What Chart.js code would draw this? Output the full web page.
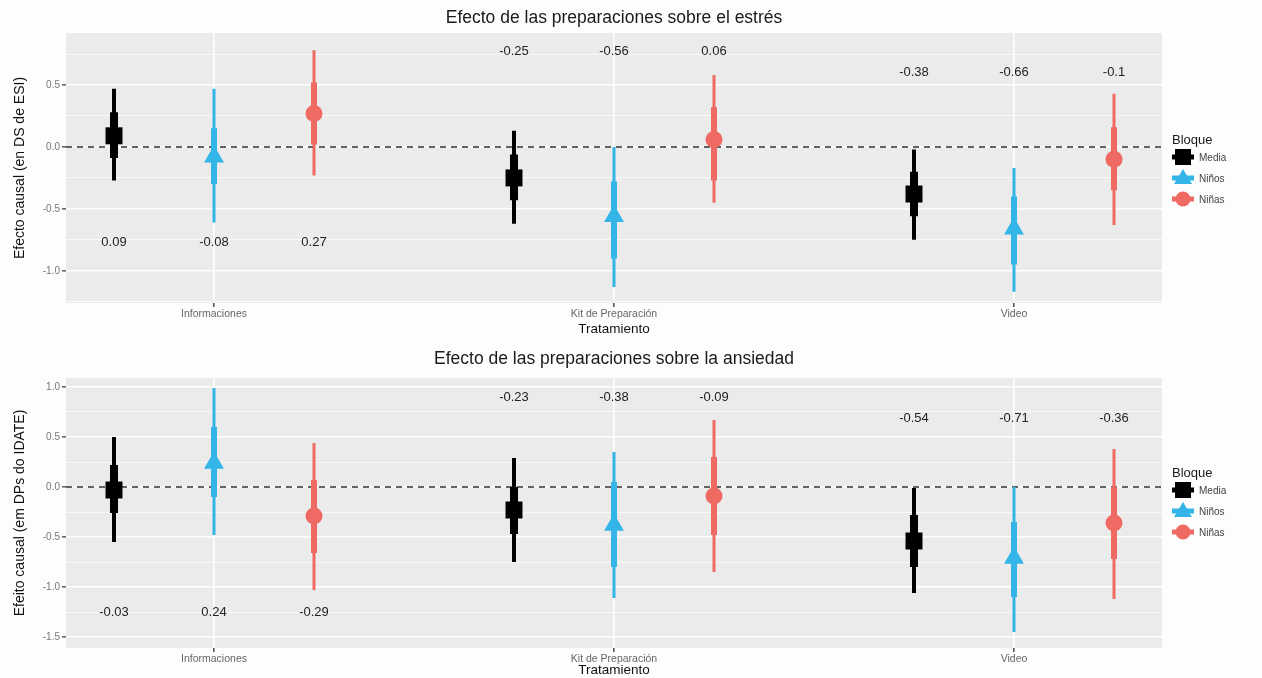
<!DOCTYPE html>
<html>
<head>
<meta charset="utf-8">
<script src="https://cdn.jsdelivr.net/npm/chart.js@4"></script>
<style>
  html, body { margin: 0; padding: 0; background: #fdfdfd; }
  .panel { position: absolute; left: 0; width: 1262px; }
  #top { top: 0; height: 340px; }
  #bottom { top: 340px; height: 338px; }
</style>
</head>
<body>
<div class="panel" id="top"><canvas id="estresChart"></canvas></div>
<div class="panel" id="bottom"><canvas id="ansiedadChart"></canvas></div>
<script>
const categories = ['Informaciones', 'Kit de Preparación', 'Video'];
const groups = ['Media', 'Niños', 'Niñas'];

// estrés (top panel)
const estresMedia = [0.09, -0.25, -0.38];
const estresNinos = [-0.08, -0.56, -0.66];
const estresNinas = [0.27, 0.06, -0.1];
const estresMediaOuter = [[-0.27, 0.47], [-0.62, 0.13], [-0.75, -0.02]];
const estresMediaInner = [[-0.09, 0.28], [-0.43, -0.06], [-0.56, -0.2]];
const estresNinosOuter = [[-0.61, 0.47], [-1.13, 0.0], [-1.17, -0.17]];
const estresNinosInner = [[-0.3, 0.15], [-0.9, -0.28], [-0.95, -0.4]];
const estresNinasOuter = [[-0.23, 0.78], [-0.45, 0.58], [-0.63, 0.43]];
const estresNinasInner = [[0.02, 0.52], [-0.27, 0.32], [-0.35, 0.16]];
const estresLabelY = [-0.77, 0.77, 0.6];
const estresMajorTicks = [-1.0, -0.5, 0.0, 0.5];
const estresMinorTicks = [-1.25, -0.75, -0.25, 0.25, 0.75];

// ansiedad (bottom panel)
const ansiedadMedia = [-0.03, -0.23, -0.54];
const ansiedadNinos = [0.24, -0.38, -0.71];
const ansiedadNinas = [-0.29, -0.09, -0.36];
const ansiedadMediaOuter = [[-0.55, 0.5], [-0.75, 0.29], [-1.06, -0.01]];
const ansiedadMediaInner = [[-0.26, 0.22], [-0.47, 0.0], [-0.8, -0.28]];
const ansiedadNinosOuter = [[-0.48, 0.99], [-1.11, 0.35], [-1.45, 0.0]];
const ansiedadNinosInner = [[-0.1, 0.6], [-0.8, 0.05], [-1.1, -0.35]];
const ansiedadNinasOuter = [[-1.03, 0.44], [-0.85, 0.67], [-1.12, 0.38]];
const ansiedadNinasInner = [[-0.66, 0.07], [-0.48, 0.3], [-0.72, 0.0]];
const ansiedadLabelY = [-1.25, 0.9, 0.69];
const ansiedadMajorTicks = [-1.5, -1.0, -0.5, 0.0, 0.5, 1.0];
const ansiedadMinorTicks = [-1.25, -0.75, -0.25, 0.25, 0.75];

const groupColors = ['#000000', '#33B5E8', '#EE6A62'];
const groupShapes = ['rect', 'triangle', 'circle'];
const groupRadius = [12, 11.5, 8.5];
const outerWidth = [4, 3, 3];
const innerWidth = [8, 6, 6];
const groupOffsets = [-0.25, 0, 0.25];
const FONT = '"Liberation Sans", Arial, sans-serif';

function isMajor(v) {
    return Math.abs(v * 2 - Math.round(v * 2)) < 1e-6;
}

function rangeData(pairs, offset) {
    const pts = [];
    pairs.forEach((p, i) => {
        pts.push({ x: i + 1 + offset, y: p[0] });
        pts.push({ x: i + 1 + offset, y: p[1] });
        pts.push({ x: i + 1 + offset, y: null });
    });
    return pts;
}

function makeChart(canvasId, cfg) {
    const datasets = [];
    groups.forEach((g, k) => {
        datasets.push({
            label: g,
            data: cfg.estimates[k].map((v, i) => ({ x: i + 1 + groupOffsets[k], y: v })),
            showLine: false,
            pointStyle: groupShapes[k],
            pointRadius: groupRadius[k],
            pointBackgroundColor: groupColors[k],
            pointBorderWidth: 0,
            order: 0
        });
        datasets.push({
            label: g + ' inner',
            data: rangeData(cfg.inner[k], groupOffsets[k]),
            borderColor: groupColors[k],
            borderWidth: innerWidth[k],
            borderCapStyle: 'butt',
            pointRadius: 0,
            order: 1
        });
        datasets.push({
            label: g + ' outer',
            data: rangeData(cfg.outer[k], groupOffsets[k]),
            borderColor: groupColors[k],
            borderWidth: outerWidth[k],
            borderCapStyle: 'butt',
            pointRadius: 0,
            order: 2
        });
    });
    datasets.push({
        label: 'cero',
        data: [{ x: 0.63, y: 0 }, { x: 3.37, y: 0 }],
        borderColor: '#333333',
        borderWidth: 1.6,
        borderDash: [6, 5],
        pointRadius: 0,
        order: 3
    });

    const panelPlugin = {
        id: 'panel',
        beforeDraw(chart) {
            const a = chart.chartArea;
            const c = chart.ctx;
            c.save();
            c.fillStyle = '#EBEBEB';
            c.fillRect(a.left, a.top, a.right - a.left, a.bottom - a.top);
            c.restore();
        },
        afterDatasetsDraw(chart) {
            const c = chart.ctx;
            const xs = chart.scales.x, ys = chart.scales.y;
            c.save();
            c.font = '13px ' + FONT;
            c.fillStyle = '#222';
            c.textAlign = 'center';
            c.textBaseline = 'middle';
            groups.forEach((g, k) => {
                cfg.estimates[k].forEach((v, i) => {
                    c.fillText(String(v), xs.getPixelForValue(i + 1 + groupOffsets[k]), ys.getPixelForValue(cfg.labelY[i]));
                });
            });
            c.restore();
        },
        afterDraw(chart) {
            const c = chart.ctx;
            c.save();
            c.fillStyle = '#1a1a1a';
            c.font = '17.5px ' + FONT;
            c.textAlign = 'center';
            c.textBaseline = 'middle';
            c.fillText(cfg.title, 614, cfg.titleY);
            // legend
            c.textAlign = 'left';
            c.font = '13px ' + FONT;
            c.fillText('Bloque', 1172, cfg.legendY);
            groups.forEach((g, k) => {
                const y = cfg.legendY + 17 + k * 21;
                const x = 1183;
                c.fillStyle = groupColors[k];
                c.fillRect(x - 11, y - 2.5, 22, 5);
                c.beginPath();
                if (k === 0) {
                    c.rect(x - 8, y - 8, 16, 16);
                } else if (k === 1) {
                    c.moveTo(x, y - 9);
                    c.lineTo(x + 9, y + 6);
                    c.lineTo(x - 9, y + 6);
                    c.closePath();
                } else {
                    c.arc(x, y, 7.5, 0, Math.PI * 2);
                }
                c.fill();
                c.fillStyle = '#444';
                c.font = '10px ' + FONT;
                c.fillText(g, 1199, y + 1);
            });
            c.restore();
        }
    };

    return new Chart(document.getElementById(canvasId).getContext('2d'), {
        type: 'line',
        data: { datasets: datasets },
        options: {
            responsive: true,
            maintainAspectRatio: false,
            animation: false,
            layout: { padding: { left: 12, right: 100, top: cfg.topPad, bottom: 0 } },
            plugins: {
                legend: { display: false },
                tooltip: { enabled: false },
                title: { display: false }
            },
            scales: {
                x: {
                    type: 'linear',
                    min: 0.63,
                    max: 3.37,
                    afterBuildTicks: scale => { scale.ticks = [1, 2, 3].map(v => ({ value: v })); },
                    afterFit: scale => { scale.height = cfg.xHeight; },
                    ticks: {
                        autoSkip: false,
                        maxRotation: 0,
                        padding: 1,
                        color: '#666',
                        font: { family: FONT, size: 10.5 },
                        callback: v => categories[Math.round(v) - 1]
                    },
                    grid: { color: '#ffffff', lineWidth: 1.6, tickColor: '#555', tickLength: 4 },
                    border: { display: false },
                    title: {
                        display: true,
                        text: 'Tratamiento',
                        color: '#111',
                        font: { family: FONT, size: 13.5 },
                        padding: { top: 0, bottom: cfg.xTitlePad }
                    }
                },
                y: {
                    type: 'linear',
                    min: cfg.yMin,
                    max: cfg.yMax,
                    afterBuildTicks: scale => {
                        scale.ticks = cfg.major.concat(cfg.minor).sort((a, b) => a - b).map(v => ({ value: v }));
                    },
                    afterFit: scale => { scale.width = 54; },
                    ticks: {
                        padding: 2,
                        color: '#777',
                        font: { family: FONT, size: 10 },
                        callback: v => isMajor(v) ? v.toFixed(1) : ''
                    },
                    grid: {
                        color: '#ffffff',
                        lineWidth: ctx => isMajor(ctx.tick.value) ? 1.6 : 0.7,
                        tickColor: ctx => isMajor(ctx.tick.value) ? '#666' : 'rgba(0,0,0,0)',
                        tickLength: 4
                    },
                    border: { display: false },
                    title: {
                        display: true,
                        text: cfg.yTitle,
                        color: '#111',
                        font: { family: FONT, size: 14 },
                        padding: { top: 0, bottom: 0 }
                    }
                }
            }
        },
        plugins: [panelPlugin]
    });
}

makeChart('estresChart', {
    title: 'Efecto de las preparaciones sobre el estrés',
    titleY: 18,
    yTitle: 'Efecto causal (en DS de ESI)',
    estimates: [estresMedia, estresNinos, estresNinas],
    outer: [estresMediaOuter, estresNinosOuter, estresNinasOuter],
    inner: [estresMediaInner, estresNinosInner, estresNinasInner],
    labelY: estresLabelY,
    yMin: -1.26,
    yMax: 0.92,
    major: estresMajorTicks,
    minor: estresMinorTicks,
    topPad: 33,
    xHeight: 37,
    xTitlePad: 3,
    legendY: 140
});

makeChart('ansiedadChart', {
    title: 'Efecto de las preparaciones sobre la ansiedad',
    titleY: 19,
    yTitle: 'Efeito causal (em DPs do IDATE)',
    estimates: [ansiedadMedia, ansiedadNinos, ansiedadNinas],
    outer: [ansiedadMediaOuter, ansiedadNinosOuter, ansiedadNinasOuter],
    inner: [ansiedadMediaInner, ansiedadNinosInner, ansiedadNinasInner],
    labelY: ansiedadLabelY,
    yMin: -1.61,
    yMax: 1.09,
    major: ansiedadMajorTicks,
    minor: ansiedadMinorTicks,
    topPad: 38,
    xHeight: 30,
    xTitlePad: 0,
    legendY: 133
});
</script>
</body>
</html>
